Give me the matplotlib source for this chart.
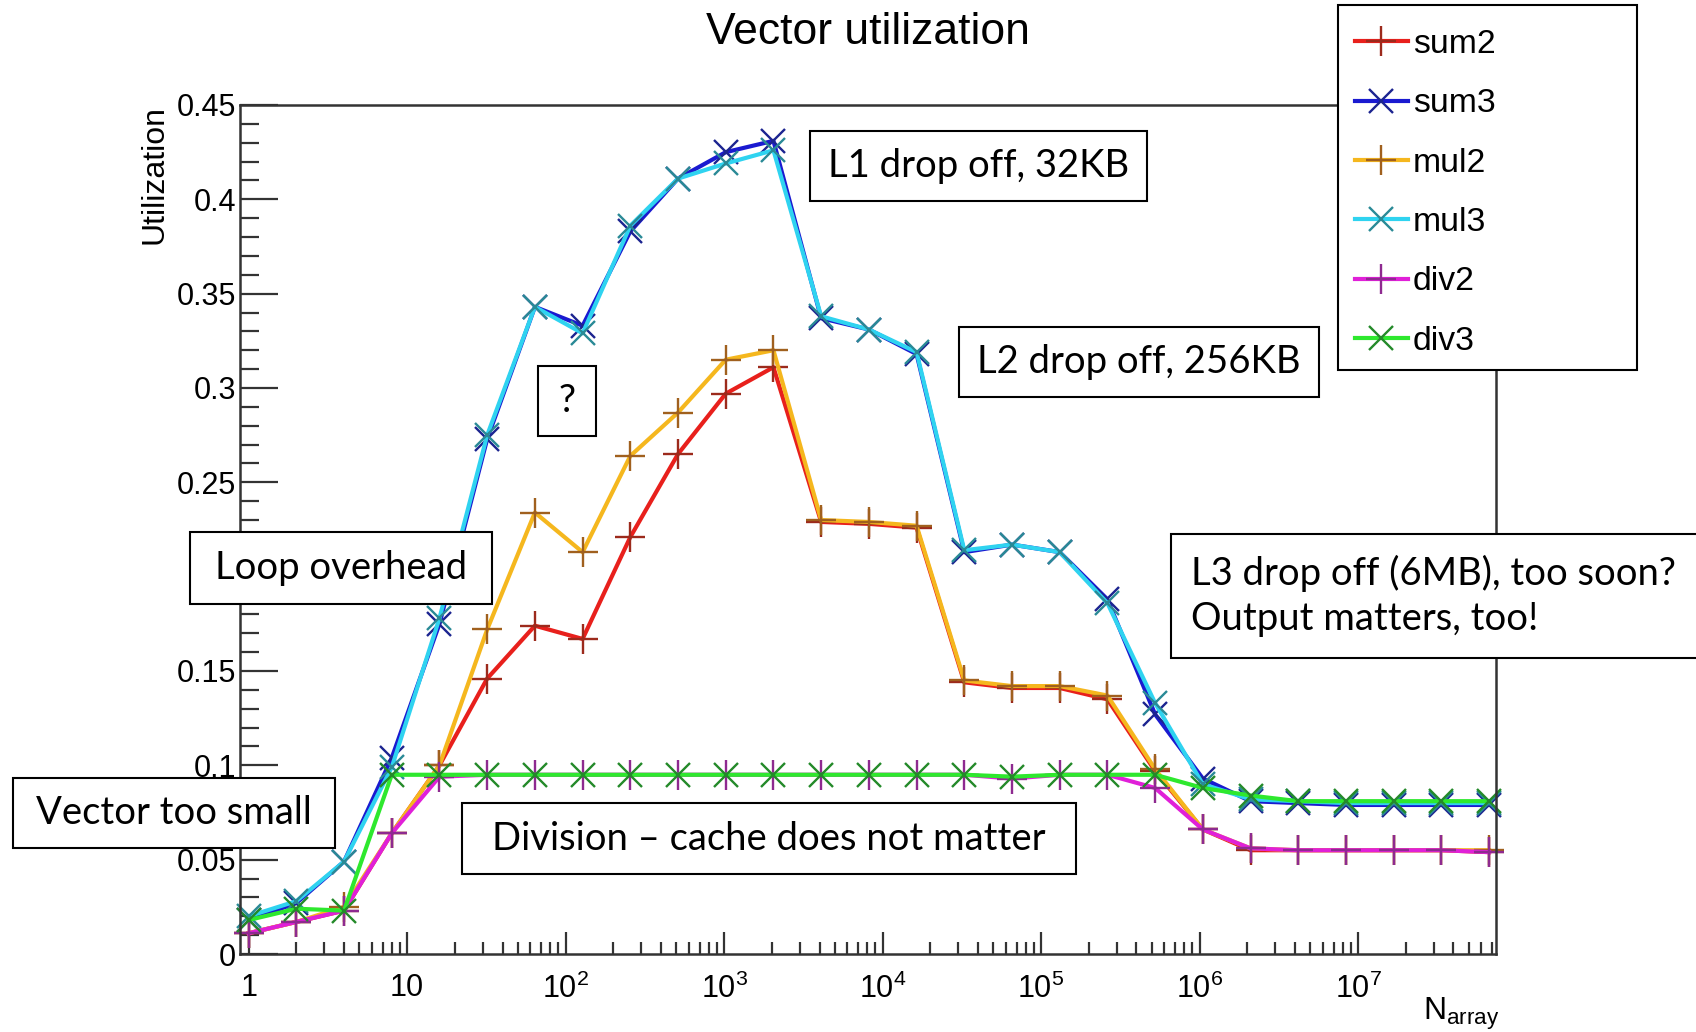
import math
import matplotlib
matplotlib.use("Agg")
import matplotlib.pyplot as plt
from matplotlib.patches import Rectangle
from matplotlib.lines import Line2D
from matplotlib.ticker import MultipleLocator, FixedLocator, FuncFormatter

plt.rcParams['font.family'] = ['Liberation Sans', 'DejaVu Sans']
plt.rcParams['mathtext.default'] = 'regular'

# array sizes (x axis)
n_array = [1, 2, 4, 8, 16, 32, 64, 128, 256, 512, 1024, 2048, 4096, 8192,
           16384, 32768, 65536, 131072, 262144, 524288, 1048576, 2097152,
           4194304, 8388608, 16777216, 33554432, 67108864]

sum2 = [0.011, 0.017, 0.023, 0.064, 0.100, 0.146, 0.174, 0.167, 0.221, 0.265,
        0.297, 0.311, 0.229, 0.228, 0.226, 0.144, 0.141, 0.141, 0.135, 0.097,
        0.066, 0.055, 0.055, 0.055, 0.055, 0.055, 0.054]
sum3 = [0.018, 0.027, 0.049, 0.104, 0.175, 0.273, 0.343, 0.333, 0.383, 0.411,
        0.425, 0.431, 0.337, 0.331, 0.318, 0.213, 0.217, 0.213, 0.188, 0.127,
        0.093, 0.081, 0.080, 0.079, 0.079, 0.079, 0.079]
mul2 = [0.011, 0.017, 0.025, 0.064, 0.100, 0.172, 0.234, 0.213, 0.264, 0.287,
        0.315, 0.320, 0.230, 0.229, 0.227, 0.145, 0.142, 0.142, 0.137, 0.098,
        0.066, 0.056, 0.055, 0.055, 0.055, 0.055, 0.055]
mul3 = [0.020, 0.028, 0.049, 0.099, 0.178, 0.275, 0.343, 0.329, 0.386, 0.411,
        0.419, 0.426, 0.338, 0.331, 0.319, 0.214, 0.217, 0.213, 0.186, 0.133,
        0.090, 0.082, 0.081, 0.080, 0.080, 0.080, 0.080]
div2 = [0.011, 0.017, 0.023, 0.064, 0.094, 0.095, 0.095, 0.095, 0.095, 0.095,
        0.095, 0.095, 0.095, 0.095, 0.095, 0.095, 0.093, 0.095, 0.095, 0.088,
        0.066, 0.056, 0.055, 0.055, 0.055, 0.055, 0.054]
div3 = [0.018, 0.024, 0.023, 0.095, 0.095, 0.095, 0.095, 0.095, 0.095, 0.095,
        0.095, 0.095, 0.095, 0.095, 0.095, 0.095, 0.094, 0.095, 0.095, 0.095,
        0.088, 0.084, 0.081, 0.081, 0.081, 0.081, 0.081]

series_names = ['sum2', 'sum3', 'mul2', 'mul3', 'div2', 'div3']
series_data = [sum2, sum3, mul2, mul3, div2, div3]
line_colors = ['#e8201c', '#1a1ad0', '#f5b71e', '#2fd3f0', '#e020d8', '#2ee82e']
mark_colors = ['#9c2a1c', '#1c2490', '#a0601e', '#2a8a96', '#8e2a90', '#248a2a']
markers = ['+', 'x', '+', 'x', '+', 'x']

W, H = 1696, 1032
fig = plt.figure(figsize=(W / 100, H / 100), dpi=100)
ax = fig.add_axes([240 / W, 1 - 954 / H, 1256 / W, 849 / H])

for name, ys, lc, mc, mk in zip(series_names, series_data, line_colors,
                                mark_colors, markers):
    ms = 21 if mk == '+' else 17
    ax.plot(n_array, ys, color=lc, lw=3.0, marker=mk, ms=ms, mec=mc, mew=1.7,
            label=name, clip_on=False, solid_joinstyle='round')

ax.set_xscale('log')
ax.set_xlim(0.882, 7.42e7)
ax.set_ylim(0, 0.45)


def yfmt(v, p):
    # the 0.2 label sits behind the "Loop overhead" box in the original
    if abs(v - 0.2) < 1e-6:
        return ''
    return '%g' % round(v, 3)


ax.yaxis.set_major_locator(MultipleLocator(0.05))
ax.yaxis.set_minor_locator(MultipleLocator(0.01))
ax.yaxis.set_major_formatter(FuncFormatter(yfmt))

decades = [1, 10, 100, 1000, 1e4, 1e5, 1e6, 1e7]
ax.xaxis.set_major_locator(FixedLocator(decades))


def xfmt(v, p):
    if v < 5:
        return '1'
    if v < 50:
        return '10'
    return r'$10^{%d}$' % round(math.log10(v))


ax.xaxis.set_major_formatter(FuncFormatter(xfmt))
minors = [m * d for d in decades for m in range(2, 10) if m * d < 7.4e7]
ax.xaxis.set_minor_locator(FixedLocator(minors))
ax.xaxis.set_minor_formatter(FuncFormatter(lambda v, p: ''))

ax.tick_params(axis='y', which='major', direction='in', length=27, width=1.6,
               labelsize=22, pad=3, left=True, right=False, color='#333333')
ax.tick_params(axis='y', which='minor', direction='in', length=14, width=1.6,
               left=True, right=False, color='#333333')
ax.tick_params(axis='x', which='major', direction='in', length=16, width=1.6,
               labelsize=22, pad=14, top=False, color='#333333')
ax.tick_params(axis='x', which='minor', direction='in', length=9, width=1.6,
               top=False, color='#333333')
for s in ax.spines.values():
    s.set_linewidth(1.8)
    s.set_color('#333333')

ax.text(-0.068, 1.0, 'Utilization', rotation=90, ha='center', va='top',
        fontsize=23, transform=ax.transAxes)
ax.text(1.003, -0.07, r'N$_{array}$', ha='right', va='center', fontsize=23,
        transform=ax.transAxes)
fig.text(868 / W, 1 - 32 / H, 'Vector utilization', ha='center', va='center',
         fontsize=32)


def frac_rect(x0, y0, x1, y1, z):
    r = Rectangle((x0 / W, 1 - y1 / H), (x1 - x0) / W, (y1 - y0) / H,
                  transform=fig.transFigure, facecolor='white',
                  edgecolor='black', lw=1.5, zorder=z)
    fig.patches.append(r)


# legend frame and entries
frac_rect(1338, 5, 1637, 370, 5)
handles = [Line2D([], [], color=lc, lw=3.0, marker=mk, ms=(21 if mk == '+' else 17),
                  mec=mc, mew=1.7)
           for lc, mc, mk in zip(line_colors, mark_colors, markers)]
fig.legend(handles, series_names, loc='upper left',
           bbox_to_anchor=(1328 / W, 1 - 2 / H), frameon=False,
           fontsize=24.3, handlelength=1.57, handletextpad=0.15,
           labelspacing=0.84, borderpad=0.3).set_zorder(6)

# annotation boxes (pixel positions in the figure)
box_font = ['Lato', 'DejaVu Sans']
notes = [
    (810, 131, 1147, 201, 'L1 drop off, 32KB', 'center'),
    (959, 327, 1319, 397, 'L2 drop off, 256KB', 'center'),
    (538, 366, 596, 436, '?', 'center'),
    (190, 532, 492, 604, 'Loop overhead', 'center'),
    (1171, 534, 1700, 658, 'L3 drop off (6MB), too soon?\nOutput matters, too!', 'left'),
    (13, 778, 335, 848, 'Vector too small', 'center'),
    (462, 803, 1076, 874, 'Division \u2013 cache does not matter', 'center'),
]
for x0, y0, x1, y1, txt, al in notes:
    frac_rect(x0, y0, x1, y1, 7)
    tx = (x0 + x1) / 2 if al == 'center' else x0 + 20
    fig.text(tx / W, 1 - (y0 + y1) / 2 / H, txt, ha=al, va='center',
             fontsize=27.5, family=box_font, zorder=8, linespacing=1.3)

fig.savefig('out.png', dpi=100)
